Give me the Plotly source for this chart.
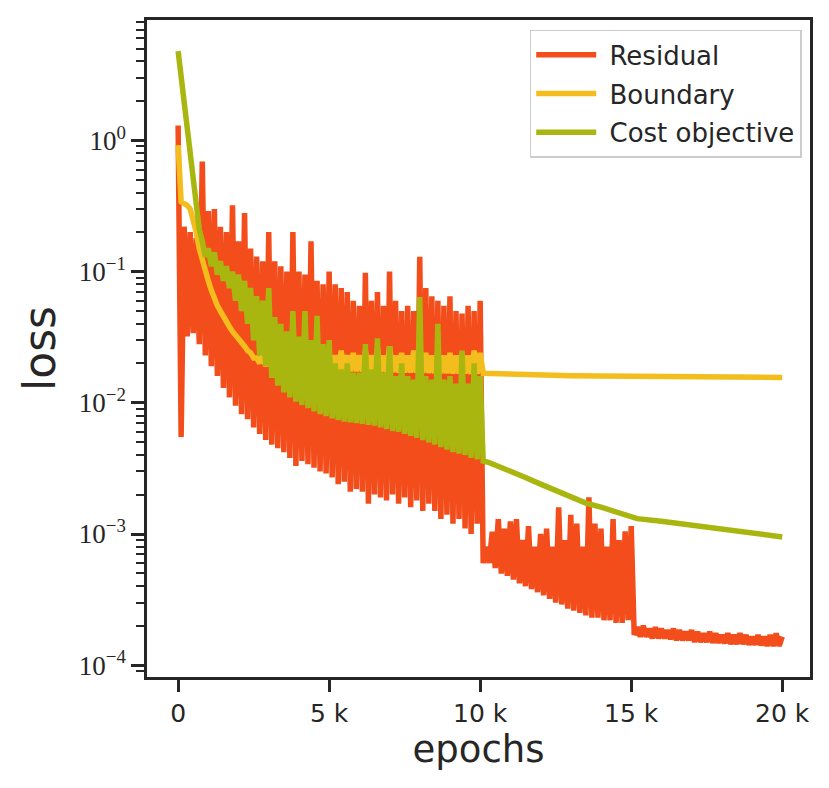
import plotly.graph_objects as go

# training log, sampled every 100 epochs up to 10 k (hi = even samples, lo = odd samples)
# residual continues the same sampling out to 20 k
residual_hi = [1.3, 0.22, 0.2, 0.18, 0.69, 0.29, 0.3, 0.22, 0.2, 0.32,
               0.17, 0.28, 0.15, 0.13, 0.12, 0.2, 0.12, 0.11, 0.1, 0.2,
               0.1, 0.095, 0.17, 0.085, 0.08, 0.1, 0.08, 0.075, 0.07, 0.06,
               0.055, 0.098, 0.06, 0.07, 0.055, 0.1, 0.06, 0.05, 0.055, 0.05,
               0.13, 0.075, 0.065, 0.06, 0.055, 0.065, 0.05, 0.048, 0.055, 0.05,
               0.06,
               0.0008, 0.00104, 0.0013, 0.0011, 0.00125, 0.0013, 0.0009, 0.00115, 0.0008, 0.001,
               0.0011, 0.0008, 0.0016, 0.0009, 0.0014, 0.0012, 0.0008, 0.0019, 0.0012, 0.0011,
               0.0008, 0.0013, 0.0009, 0.00105, 0.00115,
               0.000195, 0.0002, 0.00019, 0.000195, 0.00019, 0.000185, 0.00019, 0.000185, 0.00018, 0.000185,
               0.00018, 0.000175, 0.00018, 0.000175, 0.00017, 0.000175, 0.00017, 0.000175, 0.00017, 0.000165,
               0.00017, 0.000165, 0.00017, 0.000175, 0.000165]
residual_lo = [0.0055, 0.032, 0.034, 0.028, 0.023, 0.019, 0.016, 0.013, 0.011, 0.0095,
               0.0082, 0.0075, 0.0065, 0.0058, 0.0052, 0.0048, 0.0045, 0.0042, 0.0038, 0.0033,
               0.0036, 0.0034, 0.0032, 0.003, 0.0029, 0.0027, 0.0024, 0.0025, 0.0021, 0.0022,
               0.0021, 0.0017, 0.002, 0.0019, 0.0018, 0.002, 0.0017, 0.0019, 0.0016, 0.0018,
               0.0015, 0.0017, 0.0015, 0.0013, 0.0014, 0.0012, 0.0013, 0.0011, 0.001, 0.0012,
               0.0006, 0.0006, 0.00055, 0.0005, 0.00048, 0.00045, 0.00042, 0.0004, 0.00038, 0.00036,
               0.00034, 0.00032, 0.0003, 0.00029, 0.00027, 0.00026, 0.00025, 0.00024, 0.00023, 0.00023,
               0.00022, 0.00022, 0.00021, 0.00021, 0.00022,
               0.00017, 0.000165, 0.000165, 0.00016, 0.00016, 0.00016, 0.000158, 0.000155, 0.000155, 0.000155,
               0.00015, 0.00015, 0.00015, 0.000148, 0.000148, 0.000147, 0.000145, 0.000145, 0.000145, 0.000143,
               0.000143, 0.000142, 0.00014, 0.00014, 0.00014]

boundary_hi = [0.92, 0.33, 0.3, 0.2, 0.12, 0.085, 0.062, 0.05, 0.041, 0.035,
               0.031, 0.027, 0.024, 0.022, 0.024, 0.023, 0.024, 0.023, 0.025, 0.023,
               0.024, 0.023, 0.025, 0.023, 0.024, 0.024, 0.023, 0.025, 0.023, 0.024,
               0.023, 0.025, 0.023, 0.026, 0.023, 0.027, 0.023, 0.024, 0.023, 0.025,
               0.023, 0.024, 0.023, 0.025, 0.023, 0.024, 0.023, 0.024, 0.023, 0.025,
               0.024]
boundary_lo = [0.34, 0.32, 0.25, 0.15, 0.1, 0.072, 0.055, 0.045, 0.038, 0.033,
               0.029, 0.025, 0.022, 0.02, 0.019, 0.019, 0.0185, 0.0185, 0.018, 0.018,
               0.018, 0.018, 0.0178, 0.0178, 0.0176, 0.0176, 0.0175, 0.0175, 0.0174, 0.0174,
               0.0173, 0.0173, 0.0172, 0.0172, 0.0171, 0.0171, 0.017, 0.017, 0.017, 0.017,
               0.0169, 0.0169, 0.0168, 0.0168, 0.0168, 0.0167, 0.0167, 0.0167, 0.0166, 0.0166]
boundary_tail_ep = [10100, 11000, 12000, 13000, 14000, 15000, 16000, 17000, 18000, 19000, 20000]
boundary_tail = [0.0168, 0.0165, 0.0163, 0.0161, 0.016, 0.0159, 0.0158, 0.0158, 0.0157, 0.0157, 0.0156]

cost_hi = [4.8, 2.0, 0.75, 0.3, 0.17, 0.15, 0.14, 0.12, 0.11, 0.1,
           0.095, 0.085, 0.075, 0.065, 0.06, 0.075, 0.045, 0.04, 0.035, 0.05,
           0.032, 0.05, 0.03, 0.046, 0.028, 0.03, 0.02, 0.018, 0.02, 0.017,
           0.017, 0.028, 0.018, 0.031, 0.017, 0.027, 0.016, 0.02, 0.016, 0.015,
           0.064, 0.016, 0.015, 0.04, 0.015, 0.016, 0.014, 0.025, 0.014, 0.02,
           0.016]
cost_lo = [3.0, 1.2, 0.46, 0.21, 0.13, 0.11, 0.095, 0.085, 0.075, 0.06,
           0.05, 0.04, 0.03, 0.023, 0.019, 0.0155, 0.0135, 0.012, 0.011, 0.0102,
           0.0096, 0.0091, 0.0086, 0.0082, 0.0079, 0.0076, 0.0074, 0.0072, 0.0071, 0.007,
           0.0069, 0.0068, 0.0067, 0.0065, 0.0063, 0.0061, 0.006, 0.0058, 0.0056, 0.0054,
           0.0052, 0.005, 0.0048, 0.0046, 0.0044, 0.0042, 0.0041, 0.004, 0.0038, 0.0037]
cost_tail_ep = [10100, 10300, 10600, 11000, 11500, 12000, 12500, 13000, 13500, 14000,
                14500, 15000, 15200, 16000, 17000, 18000, 19000, 20000]
cost_tail = [0.0036, 0.0035, 0.0033, 0.003, 0.0027, 0.0024, 0.00215, 0.0019, 0.00172, 0.0016,
             0.00148, 0.00138, 0.00131, 0.00125, 0.00117, 0.00109, 0.00101, 0.00095]

xticks = [0, 5000, 10000, 15000, 20000]
xlabels = ['0', '5 k', '10 k', '15 k', '20 k']
yticks = [1e-4, 1e-3, 1e-2, 1e-1, 1]
ylabels = ['10<sup>\u22124</sup>', '10<sup>\u22123</sup>', '10<sup>\u22122</sup>',
           '10<sup>\u22121</sup>', '10<sup>0</sup>']

STEP = 100


def interleave(hi, lo):
    ys = []
    for i in range(len(hi) + len(lo)):
        ys.append(hi[i // 2] if i % 2 == 0 else lo[i // 2])
    return ys


res_y = interleave(residual_hi, residual_lo)
res_x = [i * STEP for i in range(len(res_y))]
bnd_y = interleave(boundary_hi, boundary_lo)
bnd_x = [i * STEP for i in range(len(bnd_y))] + boundary_tail_ep
bnd_y = bnd_y + boundary_tail
cost_y = interleave(cost_hi, cost_lo)
cost_x = [i * STEP for i in range(len(cost_y))] + cost_tail_ep
cost_y = cost_y + cost_tail

INK = '#262626'
LW = 5.5
PAD = '\u00a0'

fig = go.Figure()
fig.add_trace(go.Scatter(x=res_x, y=res_y, mode='lines', name=PAD + 'Residual',
                         legendgroup='a', line=dict(color='#F34D1B', width=LW)))
fig.add_trace(go.Scatter(x=bnd_x, y=bnd_y, mode='lines', name=PAD + 'Boundary',
                         legendgroup='b', line=dict(color='#F2BD1D', width=LW)))
fig.add_trace(go.Scatter(x=cost_x, y=cost_y, mode='lines', name=PAD + 'Cost objective',
                         legendgroup='c', line=dict(color='#A9B60F', width=LW)))

# page body adds an 8 px offset, so the figure is 8 px smaller and margins shifted
fig.update_layout(
    width=821, height=780,
    margin=dict(l=139, r=19, t=9, b=111),
    plot_bgcolor='white', paper_bgcolor='white',
    font=dict(family='DejaVu Sans', color=INK),
    legend=dict(x=0.9875, y=0.985, xanchor='right', yanchor='top',
                bgcolor='white', bordercolor='#cccccc', borderwidth=1.5,
                font=dict(size=26, family='DejaVu Sans', color=INK),
                itemwidth=60, tracegroupgap=2),
)
fig.update_xaxes(
    range=[-1030, 20920], showgrid=False, zeroline=False,
    showline=True, mirror=True, linecolor=INK, linewidth=2.5,
    ticks='outside', ticklen=12, tickwidth=2.5, tickcolor=INK,
    tickvals=xticks, ticktext=xlabels,
    tickfont=dict(size=25, family='DejaVu Sans', color=INK),
    title=dict(text='epochs', font=dict(size=37, family='DejaVu Sans', color=INK), standoff=8),
)
fig.update_yaxes(
    type='log', range=[-4.09, 0.918], showgrid=False, zeroline=False,
    showline=True, mirror=True, linecolor=INK, linewidth=2.5,
    ticks='outside', ticklen=13, tickwidth=2.5, tickcolor=INK,
    tickvals=yticks, ticktext=ylabels,
    tickfont=dict(size=27, family='Liberation Serif', color=INK),
    minor=dict(ticks='outside', ticklen=8, tickwidth=2, tickcolor=INK,
               dtick='D1', showgrid=False),
    title=dict(text='loss', font=dict(size=44, family='DejaVu Sans', color=INK), standoff=10),
)

fig.write_html('out.html')
